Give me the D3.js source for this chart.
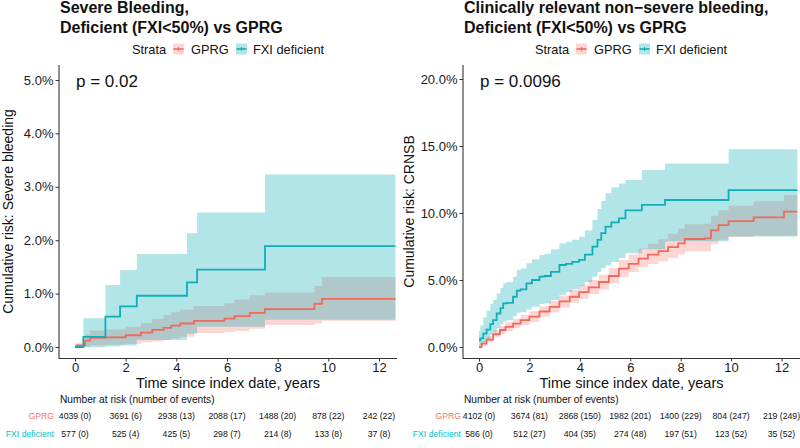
<!DOCTYPE html>
<html>

<head>
    <meta charset="UTF-8">
    <title>Cumulative risk, FXI deficient vs GPRG</title>
    <script src="https://cdn.jsdelivr.net/npm/d3@7"></script>
    <style>
        body { margin: 0; background: #fff; }
        text { font-family: "Liberation Sans", Arial, sans-serif; }
    </style>
</head>

<body>
    <script>
        // ---- data ----
        const timeTicks = [0, 2, 4, 6, 8, 10, 12];
        const strata = ['GPRG', 'FXI deficient'];

        // severe bleeding, GPRG (cumulative risk, %)
        const sbGprgTime = [0, 0.05, 0.4, 0.6, 1.2, 2.0, 2.6, 3.05, 3.5, 3.8, 4.15, 4.7, 5.9, 6.3, 6.9, 7.5, 9.45, 9.75, 12.65];
        const sbGprgRisk = [0, 0.03, 0.12, 0.17, 0.18, 0.22, 0.27, 0.32, 0.36, 0.40, 0.44, 0.49, 0.53, 0.58, 0.64, 0.71, 0.81, 0.90, 0.90];
        const sbGprgLow = [0, 0, 0.01, 0.03, 0.04, 0.06, 0.09, 0.11, 0.13, 0.16, 0.19, 0.26, 0.28, 0.30, 0.34, 0.41, 0.44, 0.49, 0.49];
        const sbGprgHigh = [0, 0.08, 0.24, 0.31, 0.33, 0.38, 0.45, 0.53, 0.60, 0.65, 0.70, 0.77, 0.82, 0.89, 0.97, 1.02, 1.14, 1.31, 1.31];

        // severe bleeding, FXI deficient
        const sbFxiTime = [0, 0.33, 1.2, 1.78, 2.44, 4.42, 4.82, 7.5, 12.65];
        const sbFxiRisk = [0, 0.19, 0.57, 0.76, 0.96, 1.21, 1.45, 1.89, 1.89];
        const sbFxiLow = [0, 0, 0.01, 0.03, 0.13, 0.25, 0.38, 0.51, 0.51];
        const sbFxiHigh = [0, 0.54, 1.16, 1.44, 1.74, 2.13, 2.52, 3.23, 3.23];

        // CRNSB, GPRG
        const crGprgTime = [0, 0.1, 0.3, 0.56, 0.83, 1.05, 1.35, 1.65, 2.0, 2.4, 2.8, 3.19, 3.6, 3.97, 4.35, 4.76, 5.15, 5.55, 5.94, 6.33, 6.7, 7.12, 7.5, 7.9, 8.16, 8.95, 9.2, 9.5, 9.9, 10.9, 12.1, 12.63];
        const crGprgRisk = [0, 0.25, 0.55, 0.95, 1.27, 1.5, 1.75, 2.0, 2.26, 2.65, 3.0, 3.4, 3.75, 4.1, 4.45, 4.85, 5.3, 5.85, 6.2, 6.6, 6.9, 7.15, 7.45, 7.74, 8.06, 8.1, 8.7, 9.1, 9.4, 9.68, 10.1, 10.1];
        const crGprgLow = [0, 0.1, 0.35, 0.7, 0.97, 1.2, 1.4, 1.65, 1.86, 2.25, 2.6, 2.95, 3.3, 3.6, 3.95, 4.3, 4.75, 5.25, 5.6, 5.95, 6.2, 6.4, 6.65, 6.9, 7.15, 7.15, 7.7, 8.0, 8.2, 8.3, 8.3, 8.3];
        const crGprgHigh = [0, 0.45, 0.8, 1.25, 1.57, 1.85, 2.1, 2.4, 2.66, 3.05, 3.45, 3.85, 4.25, 4.6, 5.0, 5.4, 5.9, 6.5, 6.9, 7.35, 7.7, 8.05, 8.45, 8.84, 9.16, 9.2, 9.8, 10.2, 10.55, 10.88, 11.35, 11.35];

        // CRNSB, FXI deficient
        const crFxiTime = [0, 0.05, 0.17, 0.3, 0.45, 0.56, 0.7, 0.85, 0.96, 1.1, 1.35, 1.5, 1.65, 1.88, 2.1, 2.4, 2.6, 2.85, 3.19, 3.45, 3.7, 3.97, 4.2, 4.5, 4.7, 4.85, 5.02, 5.25, 5.55, 5.81, 6.46, 7.38, 9.9, 12.63];
        const crFxiRisk = [0.5, 0.65, 1.0, 1.3, 1.7, 2.0, 2.5, 2.9, 3.26, 3.3, 3.75, 4.2, 4.3, 4.75, 5.0, 5.25, 5.3, 5.6, 6.12, 6.2, 6.35, 6.5, 6.9, 7.49, 8.0, 8.5, 8.98, 9.3, 9.6, 10.2, 10.6, 10.97, 11.7, 11.7];
        const crFxiLow = [0, 0.1, 0.35, 0.6, 0.9, 1.1, 1.4, 1.7, 1.9, 2.0, 2.3, 2.55, 2.6, 2.8, 3.0, 3.2, 3.25, 3.5, 3.9, 4.1, 4.3, 4.55, 4.85, 5.25, 5.6, 5.9, 6.1, 6.35, 6.65, 7.0, 7.3, 7.9, 8.25, 8.25];
        const crFxiHigh = [1.2, 1.6, 2.2, 2.7, 3.2, 3.5, 4.0, 4.4, 4.75, 4.85, 5.25, 5.75, 5.85, 6.25, 6.55, 6.87, 6.95, 7.3, 7.74, 7.85, 8.0, 8.23, 8.7, 9.48, 10.3, 10.9, 11.47, 11.9, 12.2, 12.46, 13.2, 13.7, 14.75, 14.75];

        // number at risk (number of events)
        const sbAtRiskGprg = ['4039 (0)', '3691 (6)', '2938 (13)', '2088 (17)', '1488 (20)', '878 (22)', '242 (22)'];
        const sbAtRiskFxi = ['577 (0)', '525 (4)', '425 (5)', '298 (7)', '214 (8)', '133 (8)', '37 (8)'];
        const crAtRiskGprg = ['4102 (0)', '3674 (81)', '2868 (150)', '1982 (201)', '1400 (229)', '804 (247)', '219 (249)'];
        const crAtRiskFxi = ['586 (0)', '512 (27)', '404 (35)', '274 (48)', '197 (51)', '123 (52)', '35 (52)'];

        const sbTicks = [0, 1, 2, 3, 4, 5];
        const crTicks = [0, 5, 10, 15, 20];

        // ---- drawing ----
        const width = 800;
        const height = 448;
        const lineColor = ['#F0695E', '#12AEB8'];
        const fillColor = ['#F8766D', '#00A8B4'];
        const labelColor = ['#F8766D', '#00BFC4'];

        const svg = d3.select('body')
            .append('svg')
            .attr('width', width)
            .attr('height', height);

        const zip = (t, a, b, c) => t.map((d, i) => ({ t: d, v: a[i], lo: b[i], hi: c[i] }));

        function drawPanel(p) {
            const x = d3.scaleLinear().domain([0, 12]).range(p.xRange);
            const y = d3.scaleLinear().domain(p.yDomain).range([347, p.yTop]);
            const g = svg.append('g');

            const area = d3.area()
                .curve(d3.curveStepAfter)
                .x(d => x(d.t))
                .y0(d => y(d.lo))
                .y1(d => y(d.hi));
            const line = d3.line()
                .curve(d3.curveStepAfter)
                .x(d => x(d.t))
                .y(d => y(d.v));

            g.selectAll('path.band')
                .data(p.series)
                .join('path')
                .attr('class', 'band')
                .attr('d', area)
                .attr('fill', (d, i) => fillColor[i])
                .attr('fill-opacity', 0.3);

            g.selectAll('path.curve')
                .data(p.series)
                .join('path')
                .attr('class', 'curve')
                .attr('d', line)
                .attr('fill', 'none')
                .attr('stroke', (d, i) => lineColor[i])
                .attr('stroke-width', 1.8);

            // axes
            const yAxis = g.append('g')
                .attr('transform', `translate(${p.axisX},0)`)
                .call(d3.axisLeft(y).tickValues(p.yTicks).tickSize(3.5).tickPadding(2)
                    .tickFormat(d => d3.format('.1f')(d) + '%'));
            const xAxis = g.append('g')
                .attr('transform', 'translate(0,358.5)')
                .call(d3.axisBottom(x).tickValues(timeTicks).tickSize(3).tickPadding(1.2));
            [yAxis, xAxis].forEach(a => {
                a.select('.domain').remove();
                a.selectAll('line').attr('stroke', '#333');
                a.selectAll('text').attr('font-size', 13).attr('fill', '#1a1a1a')
                    .style('font-family', '"Liberation Sans", Arial, sans-serif');
            });
            g.append('line')
                .attr('x1', p.axisX).attr('x2', p.axisX)
                .attr('y1', 65).attr('y2', 359)
                .attr('stroke', '#333').attr('stroke-width', 1.1);
            g.append('line')
                .attr('x1', p.axisX).attr('x2', p.axisRight)
                .attr('y1', 358.5).attr('y2', 358.5)
                .attr('stroke', '#333').attr('stroke-width', 1.1);

            // titles
            p.title.forEach((s, i) => g.append('text')
                .attr('x', p.axisX + 1).attr('y', 12.5 + i * 20)
                .attr('font-size', 16).attr('font-weight', 'bold').attr('fill', '#111')
                .text(s));

            const mid = (p.axisX + p.axisRight) / 2;
            g.append('text')
                .attr('x', mid).attr('y', 388)
                .attr('text-anchor', 'middle').attr('font-size', 14.5).attr('fill', '#111')
                .text('Time since index date, years');
            g.append('text')
                .attr('transform', `translate(${p.yTitleX},211.5) rotate(-90)`)
                .attr('text-anchor', 'middle').attr('font-size', 14).attr('fill', '#111')
                .text(p.yTitle);

            g.append('text')
                .attr('x', x(0) + 1).attr('y', 86.5)
                .attr('font-size', 17).attr('fill', '#111')
                .text(p.pValue);

            // legend
            const lg = g.append('g').attr('transform', `translate(${p.legendX},0)`);
            lg.append('text').attr('x', 0).attr('y', 53.5).attr('font-size', 12.8).attr('fill', '#111').text('Strata');
            const keyX = [41, 104];
            const txtX = [59, 121];
            strata.forEach((s, i) => {
                lg.append('rect')
                    .attr('x', keyX[i]).attr('y', 43.5).attr('width', 11).attr('height', 11)
                    .attr('fill', fillColor[i]).attr('fill-opacity', 0.3);
                lg.append('line')
                    .attr('x1', keyX[i] + 0.5).attr('x2', keyX[i] + 10.5)
                    .attr('y1', 49).attr('y2', 49)
                    .attr('stroke', lineColor[i]).attr('stroke-width', 1.6);
                lg.append('line')
                    .attr('x1', keyX[i] + 5.5).attr('x2', keyX[i] + 5.5)
                    .attr('y1', 47).attr('y2', 51)
                    .attr('stroke', lineColor[i]).attr('stroke-width', 1);
                lg.append('text').attr('x', txtX[i]).attr('y', 53.5)
                    .attr('font-size', 12.8).attr('fill', '#111').text(s);
            });

            // risk table
            g.append('text')
                .attr('x', p.axisX + 1).attr('y', 403)
                .attr('font-size', 10.2).attr('fill', '#111')
                .text('Number at risk (number of events)');
            const rowY = [418.5, 436.5];
            p.atRisk.forEach((row, r) => {
                g.append('text')
                    .attr('x', p.rowLabelX).attr('y', rowY[r])
                    .attr('text-anchor', 'end').attr('font-size', 8.7)
                    .attr('fill', labelColor[r])
                    .text(strata[r]);
                g.selectAll(null)
                    .data(row)
                    .join('text')
                    .attr('x', (d, i) => x(timeTicks[i]))
                    .attr('y', rowY[r])
                    .attr('text-anchor', 'middle').attr('font-size', 8.7).attr('fill', '#111')
                    .text(d => d);
            });
        }

        drawPanel({
            xRange: [75, 379],
            axisX: 59,
            axisRight: 397,
            yDomain: [0, 5],
            yTop: 80,
            yTicks: sbTicks,
            yTitleX: 13,
            yTitle: 'Cumulative risk: Severe bleeding',
            title: ['Severe Bleeding,', 'Deficient (FXI<50%) vs GPRG'],
            pValue: 'p = 0.02',
            legendX: 132,
            rowLabelX: 54,
            series: [
                zip(sbGprgTime, sbGprgRisk, sbGprgLow, sbGprgHigh),
                zip(sbFxiTime, sbFxiRisk, sbFxiLow, sbFxiHigh)
            ],
            atRisk: [sbAtRiskGprg, sbAtRiskFxi]
        });

        drawPanel({
            xRange: [479, 781.5],
            axisX: 463,
            axisRight: 800,
            yDomain: [0, 20],
            yTop: 79,
            yTicks: crTicks,
            yTitleX: 414,
            yTitle: 'Cumulative risk: CRNSB',
            title: ['Clinically relevant non\u2212severe bleeding,', 'Deficient (FXI<50%) vs GPRG'],
            pValue: 'p = 0.0096',
            legendX: 535,
            rowLabelX: 461,
            series: [
                zip(crGprgTime, crGprgRisk, crGprgLow, crGprgHigh),
                zip(crFxiTime, crFxiRisk, crFxiLow, crFxiHigh)
            ],
            atRisk: [crAtRiskGprg, crAtRiskFxi]
        });
    </script>
</body>

</html>
